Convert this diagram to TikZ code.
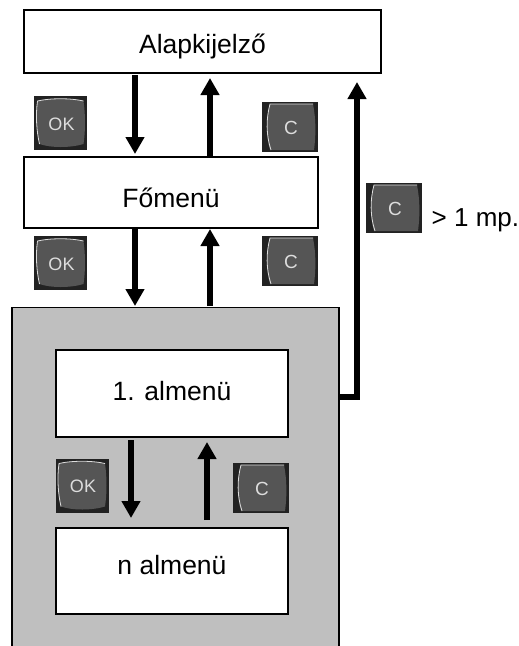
\documentclass[tikz,border=0pt]{standalone}
\usepackage{fontspec}
\setmainfont{Liberation Sans}
\usetikzlibrary{arrows.meta}
\definecolor{panel}{HTML}{BFBFBF}
\definecolor{btnbg}{HTML}{222222}
\definecolor{btnface}{HTML}{555555}
\definecolor{btnline}{HTML}{DDDDDD}
\tikzset{
  x=1pt,y=-1pt,
  menubox/.style={draw=black,line width=1.6pt,fill=white,minimum width=#1,inner sep=0pt},
  boxtext/.style={font=\fontsize{26.5}{30}\selectfont,inner sep=0pt},
  flow/.style={line width=5.5pt,-{Triangle[length=17pt,width=18pt]},black},
  btnlabel/.style={text=btnline,inner sep=0pt,font=\fontsize{#1}{#1}\selectfont},
  okbtn/.pic={
    \fill[btnbg] (-26.5,-27) rectangle (26.5,27);
    \fill[btnface] (-23,-22) .. controls (-10,-25) and (10,-25) .. (23,-22) .. controls (25,-8) and (25,8) .. (23,21) .. controls (10,25) and (-10,25) .. (-21,21) .. controls (-24,8) and (-25,-8) .. (-23,-22) -- cycle;
    \draw[btnline,line width=0.8pt] (-21,21) .. controls (-24,8) and (-25,-8) .. (-23,-22) .. controls (-10,-25) and (10,-25) .. (23,-22);
    \node[btnlabel=18] (-okl) at (1,1) {OK};
  },
  cbtn/.pic={
    \fill[btnbg] (-28,-25) rectangle (28,25);
    \fill[btnface] (-20,-23) -- (23,-23) .. controls (26,-8) and (26,8) .. (24,23) -- (-20,23) .. controls (-24,8) and (-24,-8) .. (-20,-23) -- cycle;
    \draw[btnline,line width=0.8pt] (-19,23) .. controls (-24,8) and (-24,-8) .. (-20,-23) -- (23,-23);
    \node[btnlabel=19] (-cl) at (1,1) {C};
  }
}
\begin{document}
\begin{tikzpicture}
\useasboundingbox (0,0) rectangle (519,646);
\fill[white] (0,0) rectangle (519,646);
\node[draw=black,line width=1.6pt,fill=panel,minimum width=327pt,minimum height=345pt,inner sep=0pt] (grp) at (175.5,480) {};
\node[menubox=357pt,minimum height=63pt,label={[boxtext,yshift=-5pt]center:Alapkijelző}] (alap) at (202.5,41.5) {};
\node[menubox=294pt,minimum height=71pt,label={[boxtext,yshift=-5pt]center:Főmenü}] (fo) at (171,192.5) {};
\node[menubox=232pt,minimum height=87pt,label={[boxtext,yshift=2pt]center:1. almenü}] (al1) at (172,393.5) {};
\node[menubox=232pt,minimum height=86pt,label={[boxtext,yshift=6pt]center:n almenü}] (aln) at (172,571) {};
\coordinate (a1s) at (135,75); \coordinate (a1e) at (135,154);
\coordinate (a2s) at (210,156); \coordinate (a2e) at (210,78);
\coordinate (a3s) at (135,229); \coordinate (a3e) at (135,306);
\coordinate (a4s) at (210,306); \coordinate (a4e) at (210,229);
\coordinate (a5s) at (131,440); \coordinate (a5e) at (131,518);
\coordinate (a6s) at (207,520); \coordinate (a6e) at (207,442);
\coordinate (a7s) at (339,397); \coordinate (a7c) at (357,397); \coordinate (a7e) at (357,82);
\draw[flow] (a1s) -- (a1e);
\draw[flow] (a2s) -- (a2e);
\draw[flow] (a3s) -- (a3e);
\draw[flow] (a4s) -- (a4e);
\draw[flow] (a5s) -- (a5e);
\draw[flow] (a6s) -- (a6e);
\draw[flow] (a7s) -- (a7c) -- (a7e);
\pic (ok1) at (60.5,123) {okbtn};
\pic (ok2) at (60.5,263) {okbtn};
\pic (ok3) at (82,485.5) {okbtn};
\pic (c1) at (290,127) {cbtn};
\pic (c2) at (290,261) {cbtn};
\pic (c3) at (261,488) {cbtn};
\pic (c4) at (394,208) {cbtn};
\node[anchor=west,inner sep=0pt,font=\fontsize{26}{30}\selectfont] (mp) at (431.5,220) {> 1 mp.};
\end{tikzpicture}
\end{document}
